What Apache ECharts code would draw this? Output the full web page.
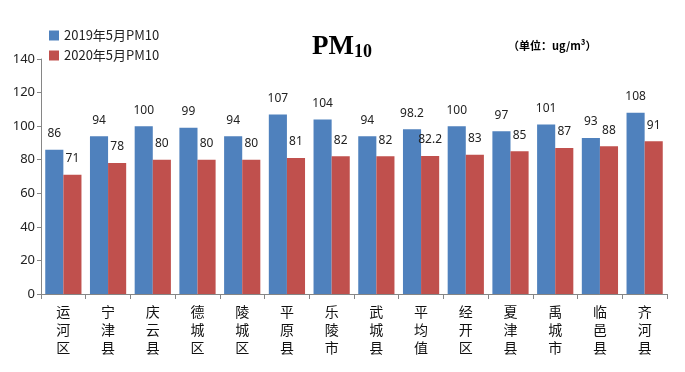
<!DOCTYPE html>
<html><head><meta charset="utf-8">
<script src="https://cdn.jsdelivr.net/npm/echarts@6/dist/echarts.min.js"></script>
<style>html,body{margin:0;padding:0;background:#fff}#c{width:685px;height:372px}</style>
</head><body><div id="c"></div>
<script>
var categories = ['运河区','宁津县','庆云县','德城区','陵城区','平原县','乐陵市','武城县','平均值','经开区','夏津县','禹城市','临邑县','齐河县'];
var pm2019 = [86,94,100,99,94,107,104,94,98.2,100,97,101,93,108];
var pm2020 = [71,78,80,80,80,81,82,82,82.2,83,85,87,88,91];
var seriesNames = ['2019年5月PM10','2020年5月PM10'];
var yTicks = {min:0, max:140, interval:20};

var chart = echarts.init(document.getElementById('c'));
var font = '"Noto Sans CJK SC", "Noto Sans", sans-serif';
var lbl = {show:true, position:'top', distance:10, color:'#222', fontSize:12, fontFamily:'"Noto Sans", sans-serif'};
chart.setOption({
  animation:false,
  title:{
    text:'{a|PM}{b|10}', left:307, top:26,
    textStyle:{rich:{
      a:{fontFamily:'"Liberation Serif", serif', fontSize:27, color:'#000', verticalAlign:'bottom', lineHeight:30},
      b:{fontFamily:'"Liberation Serif", serif', fontSize:18, color:'#000', padding:[12,0,0,0], verticalAlign:'bottom', lineHeight:30}
    }}
  },
  graphic:[{type:'text', left:508, top:40, style:{text:'（单位：ug/m³）', font:'bold 11px "Noto Sans CJK SC", serif', fill:'#000'}}],
  legend:{
    orient:'vertical', left:44, top:24, itemWidth:10, itemHeight:10, itemGap:7,
    icon:'rect',
    textStyle:{fontSize:13, color:'#222', fontFamily:font}
  },
  grid:{left:41, right:18, top:59, bottom:78},
  xAxis:{
    type:'category', data:categories,
    axisLine:{lineStyle:{color:'#868686'}},
    axisTick:{show:true, length:5, lineStyle:{color:'#868686'}},
    axisLabel:{color:'#111', fontSize:14, lineHeight:18, margin:9, fontFamily:font,
      formatter:function(v){return v.split('').join('\n');}}
  },
  yAxis:{
    type:'value', min:yTicks.min, max:yTicks.max, interval:yTicks.interval,
    splitLine:{show:false},
    axisLine:{show:true, lineStyle:{color:'#868686'}},
    axisTick:{show:true, length:4, lineStyle:{color:'#868686'}},
    axisLabel:{color:'#222', fontSize:13, margin:6, fontFamily:'"Noto Sans", sans-serif'}
  },
  series:[
    {name:seriesNames[0], type:'bar', data:pm2019, barGap:'0%', barCategoryGap:'19%',
      itemStyle:{color:'#4F81BD'}, label:lbl},
    {name:seriesNames[1], type:'bar', data:pm2020,
      itemStyle:{color:'#C0504D'}, label:lbl}
  ]
});
</script></body></html>
